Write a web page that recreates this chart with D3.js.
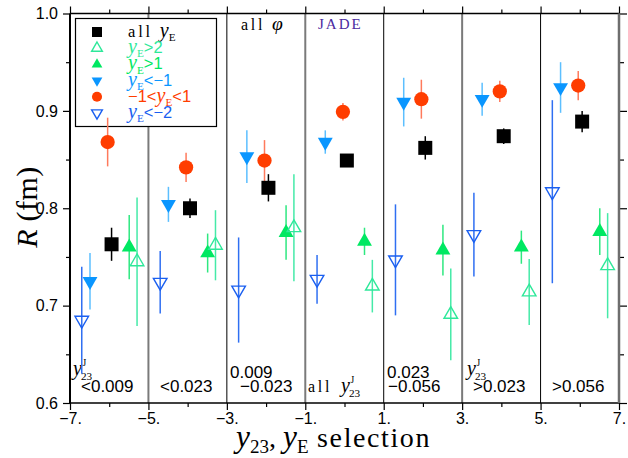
<!DOCTYPE html>
<html>
<head>
<meta charset="utf-8">
<script src="https://cdn.jsdelivr.net/npm/d3@7"></script>
<style>
  body { margin: 0; background: #fff; }
  svg { display: block; }
</style>
</head>
<body>
<svg id="chart" width="628" height="458"></svg>
<script>
// y23 / yE selection groups (centres on the x axis)
const groupCenters = [-6, -4, -2, 0, 2, 4, 6];

// Radius R (fm) and its error for each yE selection, one value per group
const rAllYE      = [0.763, 0.800, 0.821, 0.849, 0.862, 0.874, 0.889];
const rAllYEErr   = [0.017, 0.010, 0.014, 0.004, 0.012, 0.008, 0.011];
const rYEgt2      = [0.745, 0.762, 0.780, 0.720, 0.691, 0.714, 0.741];
const rYEgt2Err   = [0.066, 0.036, 0.055, 0.027, 0.047, 0.034, 0.054];
const rYEgt1      = [0.760, 0.754, 0.775, 0.766, 0.757, 0.760, 0.776];
const rYEgt1Err   = [0.033, 0.020, 0.028, 0.014, 0.026, 0.017, 0.024];
const rYElt1      = [0.725, 0.804, 0.853, 0.868, 0.909, 0.912, 0.924];
const rYElt1Err   = [0.029, 0.018, 0.027, 0.012, 0.025, 0.017, 0.026];
const rYEmid      = [0.868, 0.842, 0.849, 0.899, 0.912, 0.920, 0.926];
const rYEmidErr   = [0.025, 0.015, 0.021, 0.009, 0.020, 0.011, 0.015];
const rYElt2      = [0.685, 0.724, 0.716, 0.727, 0.747, 0.773, 0.817];
const rYElt2Err   = [0.055, 0.032, 0.054, 0.025, 0.057, 0.043, 0.094];

// Tick labels
const xTickLabels = ["−7.", "−5.", "−3.", "−1.", "1.", "3.", "5.", "7."];
const yTickLabels = ["0.6", "0.7", "0.8", "0.9", "1.0"];

// Series drawing setup
const series = [
  { values: rYElt2, errors: rYElt2Err, dx: -0.70, shape: "tri", down: true,  open: true,
    color: "#1a5ff0", bar: "#2f6ff2", legend: [["y","it"],["E","sub"],["<−2","sans"]] },
  { values: rYElt1, errors: rYElt1Err, dx: -0.49, shape: "tri", down: true,  open: false,
    color: "#0a96ff", bar: "#5cbfff", legend: [["y","it"],["E","sub"],["<−1","sans"]] },
  { values: rYEmid, errors: rYEmidErr, dx: -0.04, shape: "circle", open: false,
    color: "#ff3d00", bar: "#ff7a5c", legend: [["−1<","sans"],["y","it"],["E","sub"],["<1","sans"]] },
  { values: rAllYE, errors: rAllYEErr, dx: 0.06, shape: "square", open: false,
    color: "#000000", bar: "#000000", legend: [["all ","tt"],["y","it"],["E","sub"]] },
  { values: rYEgt1, errors: rYEgt1Err, dx: 0.51, shape: "tri", down: false, open: false,
    color: "#00e862", bar: "#2ee880", legend: [["y","it"],["E","sub"],[">1","sans"]] },
  { values: rYEgt2, errors: rYEgt2Err, dx: 0.71, shape: "tri", down: false, open: true,
    color: "#2ee89a", bar: "#45eaa8", legend: [["y","it"],["E","sub"],[">2","sans"]] }
];
const legendOrder = [3, 5, 4, 1, 2, 0];

const SERIF = "'Liberation Serif', 'DejaVu Serif', serif";
const SANS = "'Liberation Sans', Arial, sans-serif";

const svg = d3.select("#chart");
const x = d3.scaleLinear().domain([-7, 7]).range([70, 619]);
const y = d3.scaleLinear().domain([0.6, 1.0]).range([403, 13.5]);

// Section dividers
const dividers = [-5, -3, -1, 1, 3, 5];
svg.append("g").selectAll("line").data(dividers).join("line")
  .attr("x1", d => x(d)).attr("x2", d => x(d))
  .attr("y1", y(1.0)).attr("y2", y(0.6))
  .attr("stroke", d => ((d + 7) / 2) % 2 === 1 ? "#7a7a7a" : "#000")
  .attr("stroke-width", d => ((d + 7) / 2) % 2 === 1 ? 2 : 1);

// Rich text helper: parts as [text, style]
//   it = italic math, rm = roman, tt = spaced roman, sans = sans digits, sub = subscript
function rich(g, px, py, parts, size, color, opt = {}) {
  const itScale = opt.itScale ?? 1.22;
  const spacing = opt.spacing ?? size * 0.17;
  const subShift = opt.subShift ?? 0.3;
  const t = g.append("text").attr("x", px).attr("y", py)
    .attr("font-size", size).attr("fill", color);
  let shift = 0;
  parts.forEach(([txt, st]) => {
    const s = t.append("tspan").text(txt);
    let target = 0;
    if (st === "it") s.attr("font-family", SERIF).attr("font-style", "italic").attr("font-size", size * itScale);
    else if (st === "rm") s.attr("font-family", SERIF);
    else if (st === "tt") s.attr("font-family", SERIF).attr("letter-spacing", spacing);
    else if (st === "sans") s.attr("font-family", SANS);
    else if (st === "sub") { s.attr("font-family", SERIF).attr("font-size", size * 0.68); target = size * subShift; }
    s.attr("dy", target - shift);
    shift = target;
  });
  return t;
}

// y^J_23 with stacked indices
function yJ23(g, px, py, size, color) {
  const t = g.append("text").attr("x", px).attr("y", py)
    .attr("font-family", SERIF).attr("font-style", "italic")
    .attr("font-size", size).attr("fill", color).text("y");
  const w = t.node().getComputedTextLength();
  g.append("text").attr("x", px + w + 0.5).attr("y", py - size * 0.45)
    .attr("font-family", SERIF).attr("font-size", size * 0.48).attr("fill", color).text("J");
  g.append("text").attr("x", px + w - 1).attr("y", py + size * 0.26)
    .attr("font-family", SERIF).attr("font-size", size * 0.56).attr("fill", color).text("23");
}

// Legend box
const lg = svg.append("g");
lg.append("rect").attr("x", 75.5).attr("y", 18.5).attr("width", 141).attr("height", 108)
  .attr("fill", "#fff").attr("stroke", "#000").attr("stroke-width", 1.2);

function symbolPath(s, big) {
  if (s.shape === "square") return d3.symbol(d3.symbolSquare, big ? 196 : 100)();
  if (s.shape === "circle") return d3.symbol(d3.symbolCircle, big ? 160 : 80)();
  return d3.symbol(d3.symbolTriangle, big ? (s.open ? 80 : 96) : 50)();
}
function styleMarker(sel, s) {
  sel.attr("fill", s.open ? "none" : s.color)
     .attr("stroke", s.open ? s.color : "none")
     .attr("stroke-width", s.open ? 1.4 : 0);
}

legendOrder.forEach((si, i) => {
  const s = series[si];
  const cy = 32 + i * 16.2;
  const m = lg.append("path").attr("d", symbolPath(s, false))
    .attr("transform", `translate(97,${cy})${s.down ? " rotate(180)" : ""}`);
  styleMarker(m, s);
  rich(lg, 128, cy + 5, s.legend, 16.5, s.color, { subShift: 0.26 });
});

// Header labels
rich(svg.append("g"), 241, 30, [["all ", "tt"], ["φ", "it"]], 16, "#000");
svg.append("text").attr("x", 318).attr("y", 29).attr("font-family", SERIF)
  .attr("font-size", 15).attr("letter-spacing", 2).attr("fill", "#4a2aa0").text("JADE");

// Region labels along the bottom
const lab = svg.append("g").attr("font-family", SANS).attr("font-size", 17).attr("fill", "#000");
yJ23(lab, 73, 375, 20, "#000");
lab.append("text").attr("x", 81).attr("y", 392).text("<0.009");
lab.append("text").attr("x", 160).attr("y", 392).text("<0.023");
lab.append("text").attr("x", 230).attr("y", 378).text("0.009");
lab.append("text").attr("x", 240).attr("y", 392).text("−0.023");
rich(lab, 308, 392, [["all", "tt"]], 16, "#000");
yJ23(lab, 341, 392, 20, "#000");
lab.append("text").attr("x", 387).attr("y", 378).text("0.023");
lab.append("text").attr("x", 388).attr("y", 392).text("−0.056");
yJ23(lab, 467, 375, 20, "#000");
lab.append("text").attr("x", 473).attr("y", 392).text(">0.023");
lab.append("text").attr("x", 552).attr("y", 392).text(">0.056");

// Data: error bars then markers
const dg = svg.append("g");
series.forEach(s => {
  const pts = groupCenters.map((c, i) => ({ cx: c + s.dx, v: s.values[i], e: s.errors[i] }));
  dg.append("g").selectAll("line").data(pts).join("line")
    .attr("x1", d => x(d.cx)).attr("x2", d => x(d.cx))
    .attr("y1", d => y(d.v + d.e)).attr("y2", d => y(d.v - d.e))
    .attr("stroke", s.bar).attr("stroke-width", 1.5);
});
series.forEach(s => {
  const pts = groupCenters.map((c, i) => ({ cx: c + s.dx, v: s.values[i] }));
  const m = dg.append("g").selectAll("path").data(pts).join("path")
    .attr("d", symbolPath(s, true))
    .attr("transform", d => `translate(${x(d.cx)},${y(d.v)})${s.down ? " rotate(180)" : ""}`);
  styleMarker(m, s);
});

// Axes
const xInts = d3.range(-7, 8);
const xMajor = xInts.filter(v => Math.abs(v) % 2 === 1);
const xMinor = xInts.filter(v => v % 2 === 0);
const yMajor = [0.6, 0.7, 0.8, 0.9, 1.0];
const yMinor = [0.65, 0.75, 0.85, 0.95];

function styleAxis(g) {
  g.select(".domain").remove();
  g.selectAll(".tick line").attr("stroke", "#000").attr("stroke-width", 1.2);
  g.selectAll(".tick text").attr("font-family", SANS).attr("font-size", 16).attr("fill", "#000");
}

svg.append("g").attr("transform", `translate(0,${y(0.6)})`)
  .call(d3.axisBottom(x).tickValues(xMajor).tickSize(7).tickPadding(3)
    .tickFormat((d, i) => xTickLabels[i]))
  .call(styleAxis);
svg.append("g").attr("transform", `translate(0,${y(0.6)})`)
  .call(d3.axisBottom(x).tickValues(xMinor).tickSize(4).tickFormat(""))
  .call(styleAxis);
svg.append("g").attr("transform", `translate(0,${y(1.0)})`)
  .call(d3.axisTop(x).tickValues(xMajor).tickSize(7).tickFormat(""))
  .call(styleAxis);
svg.append("g").attr("transform", `translate(0,${y(1.0)})`)
  .call(d3.axisTop(x).tickValues(xMinor).tickSize(4).tickFormat(""))
  .call(styleAxis);
svg.append("g").attr("transform", `translate(${x(-7)},0)`)
  .call(d3.axisLeft(y).tickValues(yMajor).tickSize(7).tickPadding(5)
    .tickFormat((d, i) => yTickLabels[i]))
  .call(styleAxis);
svg.append("g").attr("transform", `translate(${x(-7)},0)`)
  .call(d3.axisLeft(y).tickValues(yMinor).tickSize(4).tickFormat(""))
  .call(styleAxis);
svg.append("g").attr("transform", `translate(${x(7)},0)`)
  .call(d3.axisRight(y).tickValues(yMajor).tickSize(8).tickFormat(""))
  .call(styleAxis);
svg.append("g").attr("transform", `translate(${x(7)},0)`)
  .call(d3.axisRight(y).tickValues(yMinor).tickSize(5).tickFormat(""))
  .call(styleAxis);

// Frame
const fr = svg.append("g").attr("fill", "none");
fr.append("line").attr("x1", x(-7)).attr("x2", x(7)).attr("y1", y(1)).attr("y2", y(1))
  .attr("stroke", "#000").attr("stroke-width", 1.5);
fr.append("line").attr("x1", x(-7)).attr("x2", x(7)).attr("y1", y(0.6)).attr("y2", y(0.6))
  .attr("stroke", "#000").attr("stroke-width", 1.5);
fr.append("line").attr("x1", x(-7)).attr("x2", x(-7)).attr("y1", y(1)).attr("y2", y(0.6))
  .attr("stroke", "#000").attr("stroke-width", 2);
fr.append("line").attr("x1", x(7)).attr("x2", x(7)).attr("y1", y(1)).attr("y2", y(0.6))
  .attr("stroke", "#6e6e6e").attr("stroke-width", 2.5);

// Axis titles
rich(svg.append("g"), 236, 447,
  [["y", "it"], ["23", "sub"], [", ", "rm"], ["y", "it"], ["E", "sub"], [" selection", "tt"]],
  28, "#000", { itScale: 1.12, spacing: 1.6, subShift: 0.2 });
svg.append("g").attr("transform", "translate(37,207) rotate(-90)")
  .call(g => {
    const t = rich(g, 0, 0, [["R", "it"], [" (fm)", "tt"]], 30, "#000", { itScale: 1.0, spacing: 0.5 });
    t.attr("text-anchor", "middle");
  });
</script>
</body>
</html>
